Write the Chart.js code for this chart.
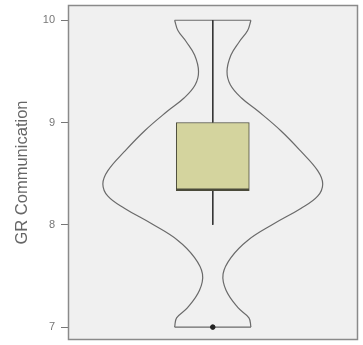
<!DOCTYPE html>
<html>
<head>
<meta charset="utf-8">
<script src="https://cdn.jsdelivr.net/npm/chart.js@4.4.1/dist/chart.umd.min.js"></script>
<style>
html,body{margin:0;padding:0;background:#fff;}
#wrap{width:363px;height:345px;}
</style>
</head>
<body>
<div id="wrap"><canvas id="c" width="363" height="345"></canvas></div>
<script>
// Data
const yTicks = [7, 8, 9, 10];
const violinValues  = [10.0, 9.90, 9.79, 9.66, 9.50, 9.37, 9.24, 9.11, 8.92, 8.72, 8.53, 8.40, 8.28, 8.16, 8.01, 7.85, 7.68, 7.52, 7.36, 7.19, 7.09, 7.00];
const violinDensity = [0.348, 0.318, 0.242, 0.166, 0.130, 0.160, 0.262, 0.415, 0.621, 0.803, 0.957, 1.003, 0.957, 0.803, 0.557, 0.321, 0.166, 0.094, 0.121, 0.230, 0.330, 0.348];
const boxQ1 = 8.333, boxQ3 = 9.0, boxMedian = 8.333;
const whiskerLow = 8.0, whiskerHigh = 10.0;
const outliers = [7.0];

// Violin outline built from the density arrays
const last = violinValues.length - 1;
const leftSide  = violinValues.map((v, i) => ({x: -violinDensity[i], y: v}));
const rightSide = violinValues.map((v, i) => ({x:  violinDensity[i], y: v}));
const caps = [
  {x: -violinDensity[0], y: violinValues[0]}, {x: violinDensity[0], y: violinValues[0]},
  {x: 0, y: null},
  {x: -violinDensity[last], y: violinValues[last]}, {x: violinDensity[last], y: violinValues[last]}
];

const frame = {
  id: 'frame',
  beforeDraw(chart) {
    const {ctx, chartArea: a} = chart;
    ctx.save();
    ctx.fillStyle = '#f0f0f0';
    ctx.fillRect(a.left, a.top, a.right - a.left, a.bottom - a.top);
    ctx.restore();
  },
  afterDraw(chart) {
    const {ctx, chartArea: a} = chart;
    ctx.save();
    ctx.strokeStyle = '#8a8a8a';
    ctx.lineWidth = 1.5;
    ctx.strokeRect(a.left + 0.5, a.top + 0.5, a.right - a.left - 1, a.bottom - a.top - 1);
    ctx.restore();
  }
};

const violinStyle = {type: 'line', borderColor: '#6a6a6a', borderWidth: 1.2, pointRadius: 0, fill: false, order: 5};

new Chart(document.getElementById('c'), {
  data: {
    datasets: [
      Object.assign({data: leftSide, tension: 0.4}, violinStyle),
      Object.assign({data: rightSide, tension: 0.4}, violinStyle),
      Object.assign({data: caps, tension: 0, spanGaps: false}, violinStyle),
      {
        type: 'line',
        data: [{x: 0, y: whiskerHigh}, {x: 0, y: boxQ3}],
        borderColor: '#333',
        borderWidth: 1,
        pointRadius: 0,
        tension: 0,
        order: 4
      },
      {
        type: 'line',
        data: [{x: 0, y: boxQ1}, {x: 0, y: whiskerLow}],
        borderColor: '#333',
        borderWidth: 1,
        pointRadius: 0,
        tension: 0,
        order: 4
      },
      {
        type: 'bar',
        data: [{x: 0, y: [boxMedian, boxQ3]}],
        backgroundColor: '#d4d49e',
        borderColor: '#4a4a3a',
        borderWidth: {top: 1, left: 1, right: 1, bottom: 2.5},
        borderSkipped: false,
        barThickness: 73,
        order: 3
      },
      {
        type: 'scatter',
        data: outliers.map(v => ({x: 0, y: v})),
        backgroundColor: '#222',
        borderColor: '#222',
        pointRadius: 2.3,
        order: 1
      }
    ]
  },
  plugins: [frame],
  options: {
    responsive: false,
    animation: false,
    layout: {padding: {top: 3, right: 4, bottom: 5, left: 0}},
    plugins: {legend: {display: false}, tooltip: {enabled: false}},
    scales: {
      x: {
        type: 'linear',
        display: false,
        offset: false,
        min: -1.321,
        max: 1.325
      },
      y: {
        type: 'linear',
        min: 6.874,
        max: 10.149,
        afterFit(s) { s.width = 68; s.paddingTop = 0; s.paddingBottom = 0; },
        afterBuildTicks(s) { s.ticks = yTicks.map(v => ({value: v})); },
        ticks: {
          color: '#777',
          font: {family: 'Liberation Sans, Arial, sans-serif', size: 11},
          padding: 6,
          callback: v => String(v)
        },
        grid: {drawOnChartArea: false, tickLength: 7, tickColor: '#777', drawTicks: true},
        border: {display: false},
        title: {
          display: true,
          text: 'GR Communication',
          color: '#666',
          font: {family: 'Liberation Sans, Arial, sans-serif', size: 16.5},
          padding: {top: 13, bottom: 0}
        }
      }
    }
  }
});
</script>
</body>
</html>
